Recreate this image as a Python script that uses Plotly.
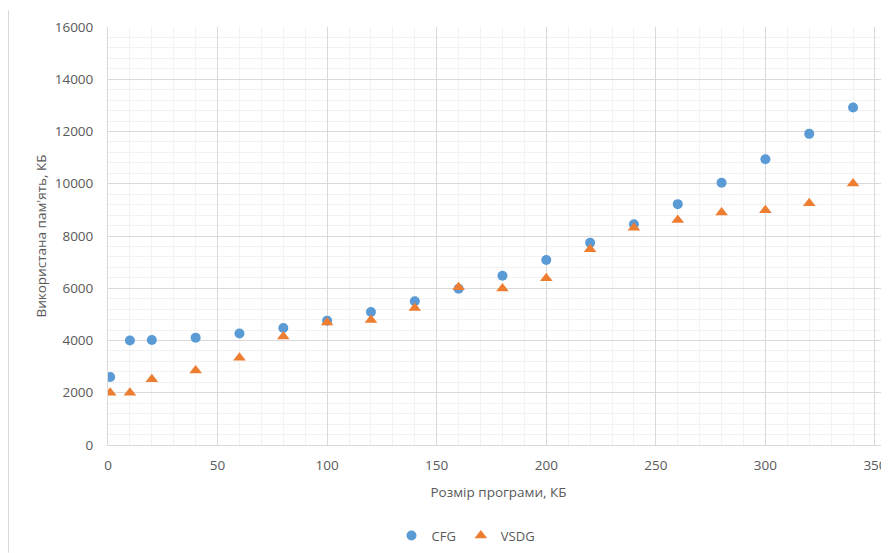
import plotly.graph_objects as go

sizes = [1, 10, 20, 40, 60, 80, 100, 120, 140, 160, 180, 200, 220, 240, 260, 280, 300, 320, 340]
cfg = [2600, 4000, 4020, 4110, 4270, 4480, 4760, 5090, 5500, 5980, 6480, 7080, 7740, 8450, 9220, 10040, 10940, 11910, 12920]
vsdg = [2000, 2000, 2520, 2850, 3340, 4150, 4690, 4780, 5240, 6040, 5990, 6380, 7490, 8320, 8610, 8900, 8990, 9250, 10010]

x_title = "Розмір програми, КБ"
y_title = "Використана пам'ять, КБ"

# page body has an 8px margin, so figure coords = screen coords - 8
W, H = 881, 545
L, R, T = 100, 0, 19
B = 107.7
PW, PH = W - L - R, H - T - B
FONT = "Open Sans"
TXT = "#595959"

fig = go.Figure()
fig.add_trace(go.Scatter(x=sizes, y=cfg, mode="markers", name="CFG",
                         marker=dict(symbol="circle", size=10, color="#5B9BD5")))
fig.add_trace(go.Scatter(x=sizes, y=vsdg, mode="markers", name="VSDG",
                         marker=dict(symbol="triangle-up", size=11, color="#ED7D31")))

fig.update_layout(
    width=W, height=H,
    margin=dict(l=L, r=R, t=T, b=B, autoexpand=False),
    paper_bgcolor="white", plot_bgcolor="white",
    font=dict(family=FONT, size=13, color=TXT),
    showlegend=True,
    legend=dict(orientation="h", x=(458 - L) / PW, xanchor="center",
                y=(H - B - 528) / PH, yanchor="middle",
                font=dict(size=13, color=TXT), itemwidth=30, tracegroupgap=0),
    xaxis=dict(range=[0, 356.4], tick0=0, dtick=50, showgrid=True, gridcolor="#D9D9D9",
               gridwidth=1, zeroline=False, showline=True, linecolor="#D9D9D9",
               automargin=False,
               minor=dict(dtick=10, showgrid=True, gridcolor="#F2F2F2", gridwidth=1),
               title=dict(text=x_title, font=dict(size=13.5, color=TXT), standoff=14),
               ticklabelstandoff=8, tickfont=dict(size=13.5, color=TXT)),
    yaxis=dict(range=[0, 16000], tick0=0, dtick=2000, showgrid=True, gridcolor="#D9D9D9",
               gridwidth=1, zeroline=False, showline=True, linecolor="#D9D9D9",
               automargin=False, tickformat="d",
               minor=dict(dtick=400, showgrid=True, gridcolor="#F2F2F2", gridwidth=1),
               title=dict(text=y_title, font=dict(size=13.5, color=TXT), standoff=4),
               ticklabelstandoff=11, tickfont=dict(size=13.5, color=TXT)),
)

# Excel chart-area left border
fig.add_shape(type="line", xref="paper", yref="paper",
              x0=(0.5 - L) / PW, x1=(0.5 - L) / PW,
              y0=(H - B - H) / PH, y1=(H - B - 2) / PH,
              line=dict(color="#D9D9D9", width=1))

fig.write_html("out.html")
